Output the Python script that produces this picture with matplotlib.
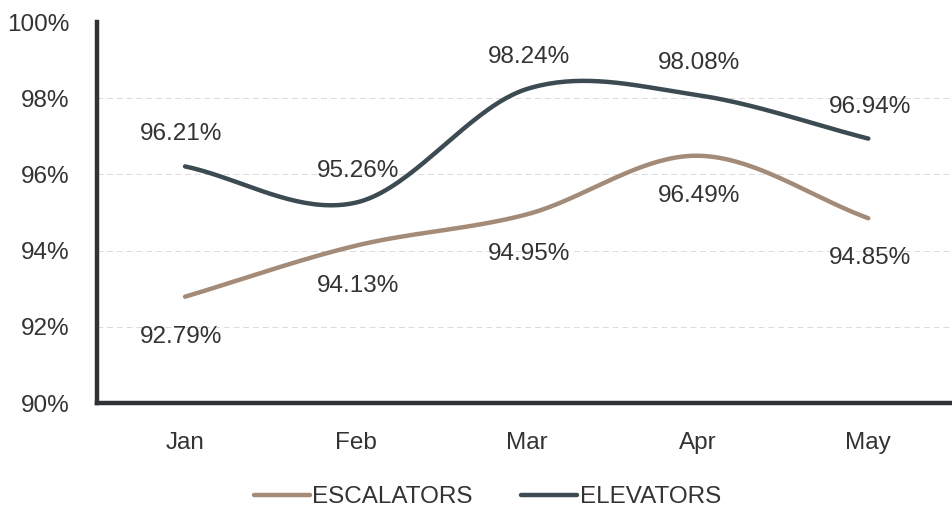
#!/usr/bin/env python3

import matplotlib

matplotlib.use("Agg")
import matplotlib.pyplot as plt
import numpy as np

MONTHS = ["Jan", "Feb", "Mar", "Apr", "May"]
ESCALATORS = [92.79, 94.13, 94.95, 96.49, 94.85]
ELEVATORS = [96.21, 95.26, 98.24, 98.08, 96.94]
Y_TICKS = [90, 92, 94, 96, 98, 100]

ESC_COLOR = "#a38b78"
ELEV_COLOR = "#3c4a52"
TEXT_COLOR = "#333333"

plt.rcParams["font.family"] = ["Liberation Sans", "DejaVu Sans"]


def smooth(values, steps=40):
    # Catmull-Rom style smoothing, like spreadsheet "smoothed line"
    pts = np.array(values, dtype=float)
    n = len(pts)
    xs, ys = [], []
    for i in range(n - 1):
        p0 = pts[i - 1] if i > 0 else pts[i]
        p1, p2 = pts[i], pts[i + 1]
        p3 = pts[i + 2] if i + 2 < n else pts[i + 1]
        m1 = (p2 - p0) / 2.0 if i > 0 else (p2 - p1)
        m2 = (p3 - p1) / 2.0 if i + 2 < n else (p2 - p1)
        t = np.linspace(0, 1, steps, endpoint=(i == n - 2))
        h00 = 2 * t**3 - 3 * t**2 + 1
        h10 = t**3 - 2 * t**2 + t
        h01 = -2 * t**3 + 3 * t**2
        h11 = t**3 - t**2
        xs.append(i + t)
        ys.append(h00 * p1 + h10 * m1 + h01 * p2 + h11 * m2)
    return np.concatenate(xs), np.concatenate(ys)


fig = plt.figure(figsize=(9.52, 5.18), dpi=100)
ax = fig.add_axes([0.102, 0.222, 0.898, 0.7355])

x_pos = np.arange(len(MONTHS))

for values, color, label, dy in (
    (ESCALATORS, ESC_COLOR, "ESCALATORS", -40),
    (ELEVATORS, ELEV_COLOR, "ELEVATORS", 32),
):
    sx, sy = smooth(values)
    ax.plot(sx, sy, color=color, linewidth=3.2, solid_capstyle="round", label=label)
    for x, v in zip(x_pos, values):
        ax.annotate(
            f"{v:.2f}%",
            (x, v),
            xytext=(-4 if x == 0 else 2, dy),
            textcoords="offset pixels",
            ha="center",
            va="center",
            fontsize=17.5,
            color=TEXT_COLOR,
        )

ax.set_xlim(-0.515, 4.49)
ax.set_ylim(90, 100)
ax.set_xticks(x_pos)
ax.set_xticklabels(MONTHS)
ax.set_yticks(Y_TICKS)
ax.set_yticklabels([f"{t}%" for t in Y_TICKS])
ax.tick_params(axis="both", length=0, labelsize=17.5, labelcolor=TEXT_COLOR)
ax.tick_params(axis="x", pad=21)
ax.tick_params(axis="y", pad=20)

ax.grid(True, axis="y", linestyle=(0, (6, 4)), linewidth=0.7, color="#dadada")
ax.yaxis.get_gridlines()[-1].set_visible(False)
ax.yaxis.get_gridlines()[0].set_visible(False)
ax.set_axisbelow(True)

for side in ("top", "right"):
    ax.spines[side].set_visible(False)
for side in ("left", "bottom"):
    ax.spines[side].set_linewidth(3.2)
    ax.spines[side].set_color("#2f3335")

fig.legend(
    loc="center",
    bbox_to_anchor=(0.512, 0.04),
    ncol=2,
    frameon=False,
    fontsize=17.5,
    handlelength=2.3,
    handletextpad=0.1,
    columnspacing=2.0,
    labelcolor=TEXT_COLOR,
)

fig.savefig("out.png", dpi=100)
